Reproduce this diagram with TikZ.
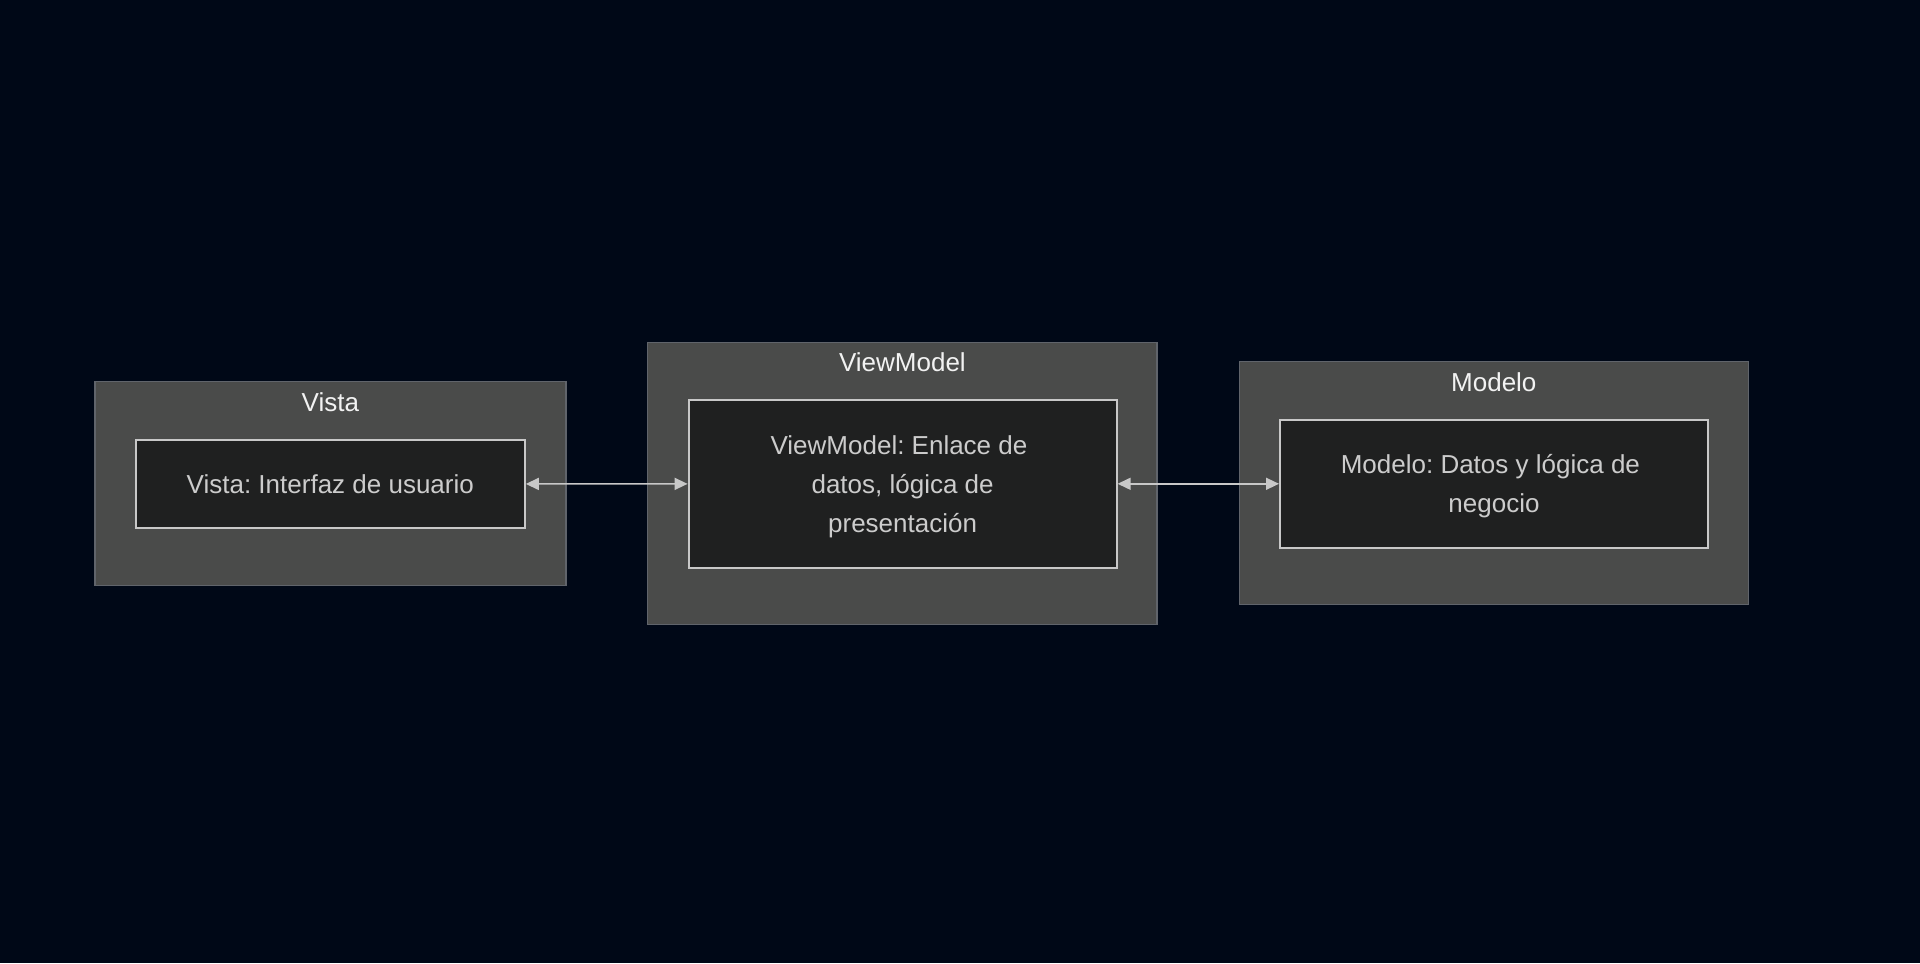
\documentclass[tikz,border=0pt]{standalone}
\usepackage{fontspec}
\setmainfont{Liberation Sans}
\usetikzlibrary{arrows.meta, positioning}
\definecolor{bgcol}{HTML}{000817}
\definecolor{layerfill}{HTML}{4A4B4A}
\definecolor{layerline}{HTML}{60646B}
\definecolor{boxfill}{HTML}{1F2020}
\definecolor{boxline}{HTML}{C8C8C8}
\definecolor{boxtext}{HTML}{CCCCCC}
\definecolor{titletext}{HTML}{F2F2F2}
\frenchspacing
\newcommand{\tsp}{\hspace*{0.278em}}

\begin{document}
\begin{tikzpicture}[x=0.5pt, y=-0.5pt]
    \tikzstyle{layer} = [rectangle, draw=layerline, line width=0.75pt, fill=layerfill, inner sep=0pt]
    \tikzstyle{part} = [rectangle, draw=boxline, line width=1pt, fill=boxfill, inner sep=0pt, text=boxtext, align=center, font=\fontsize{13}{19.5}\selectfont]
    \tikzstyle{title} = [text=titletext, font=\fontsize{13}{19.5}\selectfont]
    \tikzstyle{link} = [draw=boxline, line width=0.75pt, {Triangle[length=6.5pt,width=6pt]}-{Triangle[length=6.5pt,width=6pt]}]

    \fill[bgcol] (0,0) rectangle (1920,963);
    \useasboundingbox (0,0) rectangle (1920,963);

    % layers
    \node[layer, minimum width=235.5pt, minimum height=102pt] (vistaL) at (330.3,483.7) {};
    \node[layer, minimum width=254.8pt, minimum height=141pt] (vmL) at (902.4,483.3) {};
    \node[layer, minimum width=254.5pt, minimum height=121.3pt] (modeloL) at (1493.8,483) {};

    \node[title] (vistaT) at (330.3,402) {Vista};
    \node[title] (vmT) at (902.4,362) {ViewModel};
    \node[title] (modeloT) at (1493.8,382) {Modelo};

    % components
    \node[part, minimum width=194.5pt, minimum height=44.3pt] (vista) at (330.3,484) {Vista: Interfaz de usuario};
    \node[part, minimum width=214pt, minimum height=84pt] (vm) at (902.6,483.8) {\rule{0pt}{12pt}ViewModel: Enlace de\tsp\\datos, lógica de\tsp\\presentación};
    \node[part, minimum width=214pt, minimum height=63.8pt] (modelo) at (1494,483.8) {\rule{0pt}{12pt}Modelo: Datos y lógica de\tsp\\negocio};

    \draw[link] (vista) -- (vm);
    \draw[link] (vm) -- (modelo);
\end{tikzpicture}
\end{document}
